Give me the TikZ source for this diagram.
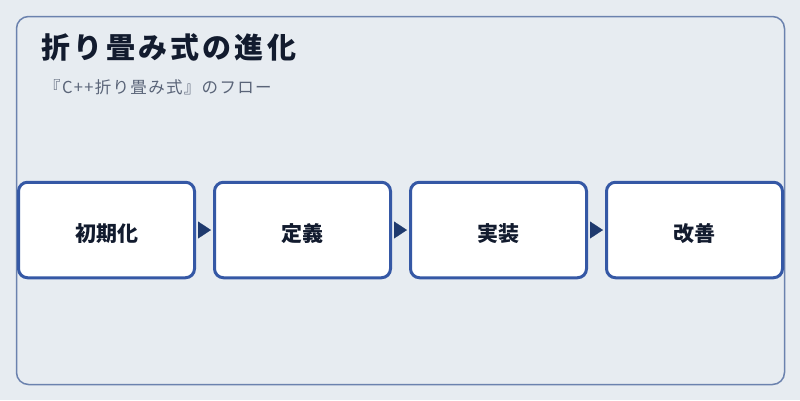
\documentclass[tikz,border=0pt]{standalone}
\usepackage{fontspec}
\setmainfont{Noto Sans CJK JP}
\usetikzlibrary{arrows.meta}

\definecolor{fond}{HTML}{E7ECF1}
\definecolor{cadre}{HTML}{6B82AE}
\definecolor{bord}{HTML}{3558A5}
\definecolor{fleche}{HTML}{1F3A6E}
\definecolor{encre}{HTML}{121B2E}
\definecolor{gris}{HTML}{5A6478}

\tikzset{etape/.style = {draw = bord, line width = 3pt, fill = white,
                         rounded corners = 9pt,
                         minimum width = 176pt, minimum height = 95.5pt,
                         text height = 22pt, text depth = 0pt,
                         font = \fontsize{21pt}{24pt}\selectfont\bfseries,
                         text = encre},
         fl/.style = {fleche, line width = 0.4pt, shorten <= 2pt, shorten >= 2pt,
                      -{Triangle[length = 13pt, width = 17pt]}}
        }

\begin{document}
\begin{tikzpicture}[x=1pt,y=-1pt]
\fill[fond] (0,0) rectangle (800,400);
\useasboundingbox (0,0) rectangle (800,400);
\draw[cadre, line width = 1.5pt, rounded corners = 12pt] (16.5,16.5) rectangle (784.5,384.5);
\node[anchor = base west, text = encre, inner sep = 0pt,
      font = \fontsize{29pt}{33pt}\selectfont\bfseries\addfontfeature{LetterSpace=11}] at (41.5,58.5) (titre) {折り畳み式の進化};
\node[anchor = base west, text = gris, inner sep = 0pt,
      font = \fontsize{16.5pt}{19pt}\selectfont\addfontfeature{LetterSpace=8}] at (44,93) (sous) {『C++折り畳み式』のフロー};
\node[etape] at (106.5,230) (b1) {初期化};
\node[etape] at (302.5,230) (b2) {定義};
\node[etape] at (498.5,230) (b3) {実装};
\node[etape] at (694.5,230) (b4) {改善};
\draw[fl] (b1) -- (b2);
\draw[fl] (b2) -- (b3);
\draw[fl] (b3) -- (b4);
\end{tikzpicture}
\end{document}
